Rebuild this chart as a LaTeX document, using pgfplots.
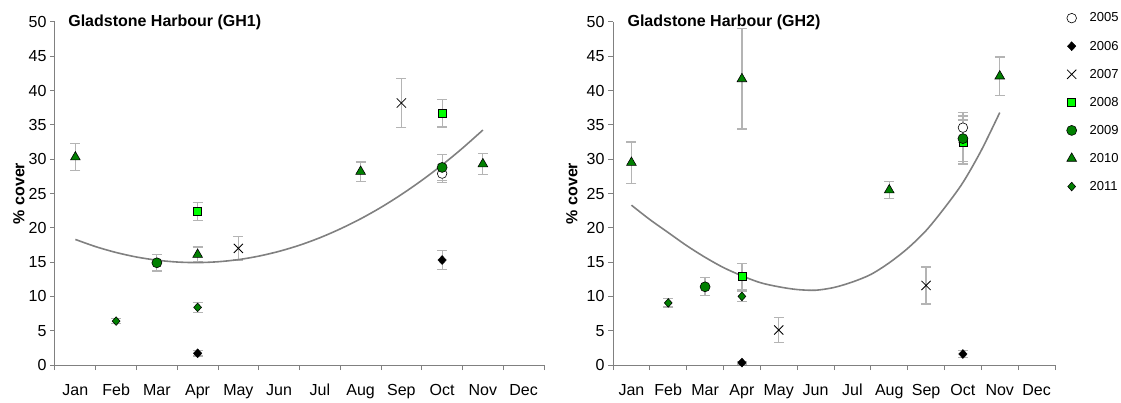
\documentclass[border=0pt]{standalone}
\usepackage{fontspec}
\setmainfont{Liberation Sans}
\usepackage{pgfplots}
\pgfplotsset{compat=1.18}

\definecolor{dgreen}{RGB}{0,128,0}
\definecolor{lgreen}{RGB}{0,255,0}
\definecolor{errgray}{RGB}{180,180,180}
\definecolor{fitgray}{RGB}{128,128,128}
\definecolor{axgray}{RGB}{128,128,128}

\pgfplotsset{
    gh/.style={
        scale only axis,
        height=343bp,
        xmin=0, xmax=12, ymin=0, ymax=50,
        axis lines=left,
        axis line style={-, draw=axgray, line width=1bp},
        tick align=outside,
        major tick length=5bp,
        minor tick length=5bp,
        every tick/.style={draw=axgray, line width=1bp},
        ytick={0,5,...,50},
        xtick={0.5,1.5,...,11.5},
        xticklabels={Jan,Feb,Mar,Apr,May,Jun,Jul,Aug,Sep,Oct,Nov,Dec},
        minor xtick={0,1,...,12},
        major x tick style={draw=none},
        tick label style={font=\fontsize{16bp}{18bp}\selectfont},
        xticklabel style={anchor=base, yshift=-25bp},
        /pgf/number format/assume math mode=true,
        ylabel={\% cover},
        ylabel style={font=\bfseries\fontsize{16bp}{18bp}\selectfont, anchor=center},
        clip=false,
        error bars/y dir=both,
        error bars/y explicit,
        error bars/error bar style={errgray, line width=1.2bp},
        error bars/error mark options={errgray, line width=1.2bp, mark size=5bp, rotate=90},
    },
    y2005/.style={only marks, mark=*, mark size=4.8bp, mark options={fill=white, draw=black, line width=0.6bp}},
    y2006/.style={only marks, mark=diamond*, mark size=4.5bp, mark options={fill=black, draw=black, xscale=1.25}},
    y2007/.style={only marks, mark=x, mark size=6.5bp, mark options={draw=black, line width=0.8bp}},
    y2008/.style={only marks, mark=square*, mark size=4bp, mark options={fill=lgreen, draw=black, line width=0.6bp}},
    y2009/.style={only marks, mark=*, mark size=5bp, mark options={fill=dgreen, draw=black, line width=0.6bp}},
    y2010/.style={only marks, mark=triangle*, mark size=5.6bp, mark options={fill=dgreen, draw=black, line width=0.6bp}},
    y2011/.style={only marks, mark=diamond*, mark size=4.3bp, mark options={fill=dgreen, draw=black, line width=0.6bp, xscale=1.2}},
    fit/.style={no marks, smooth, draw=fitgray, line width=1.6bp},
}

\begin{document}
\begin{tikzpicture}
\path[use as bounding box] (0,0) rectangle (1121bp,403bp);

% ---- GH1 ----
\begin{axis}[gh, width=489bp, at={(55bp,38bp)}, anchor=south west,
    ylabel style={at={(axis description cs:-0.074,0.5)}}]
    \addplot[y2005] coordinates {(9.5,27.9) +- (0,1.3)};
    \addplot[y2006] coordinates {(3.5,1.7) +- (0,0.4) (9.5,15.3) +- (0,1.4)};
    \addplot[y2007] coordinates {(4.5,17.0) +- (0,1.7) (8.5,38.2) +- (0,3.6)};
    \addplot[y2008] coordinates {(3.5,22.4) +- (0,1.3) (9.5,36.7) +- (0,2.0)};
    \addplot[y2009] coordinates {(2.5,14.9) +- (0,1.2) (9.5,28.8) +- (0,1.9)};
    \addplot[y2010] coordinates {(0.5,30.3) +- (0,2.0) (3.5,16.1) +- (0,1.1)
        (7.5,28.2) +- (0,1.4) (10.5,29.3) +- (0,1.5)};
    \addplot[y2011] coordinates {(1.5,6.4) +- (0,0.4) (3.5,8.4) +- (0,0.7)};
    % polynomial trend line
    \addplot[fit] coordinates {
        (0.5,18.30) (1,17.25) (1.5,16.40) (2,15.74) (2.5,15.28) (3,15.01)
        (3.5,14.93) (4,15.05) (4.5,15.36) (5,15.87) (5.5,16.57) (6,17.46)
        (6.5,18.55) (7,19.84) (7.5,21.31) (8,22.98) (8.5,24.85) (9,26.91)
        (9.5,29.16) (10,31.61) (10.5,34.25)};
    \node[anchor=west, font=\bfseries\fontsize{16bp}{18bp}\selectfont]
        at (axis description cs:0.02,1.0) {Gladstone Harbour (GH1)};
\end{axis}

% ---- GH2 ----
\begin{axis}[gh, width=442bp, at={(613bp,38bp)}, anchor=south west,
    ylabel style={at={(axis description cs:-0.093,0.5)}},
    legend style={draw=none, fill=none, at={(axis description cs:1.026,1.036)},
        anchor=north west, font=\fontsize{13bp}{15bp}\selectfont, row sep=11.5bp,
        column sep=10bp, inner sep=0pt, nodes={inner sep=3bp}},
    legend cell align=left]
    \addplot[y2005] coordinates {(9.5,34.6) +- (0,2.2)};
    \addlegendentry{2005}
    \addplot[y2006] coordinates {(3.5,0.35) +- (0,0.2) (9.5,1.6) +- (0,0.5)};
    \addlegendentry{2006}
    \addplot[y2007] coordinates {(4.5,5.1) +- (0,1.8) (8.5,11.6) +- (0,2.7)};
    \addlegendentry{2007}
    \addplot[y2008] coordinates {(3.5,12.9) +- (0,1.9) (9.5,32.5) +- (0,3.2)};
    \addlegendentry{2008}
    \addplot[y2009] coordinates {(2.5,11.4) +- (0,1.3) (9.5,33.0) +- (0,3.3)};
    \addlegendentry{2009}
    \addplot[y2010] coordinates {(0.5,29.5) +- (0,3.0) (3.5,41.7) +- (0,7.3)
        (7.5,25.5) +- (0,1.25) (10.5,42.1) +- (0,2.8)};
    \addlegendentry{2010}
    \addplot[y2011] coordinates {(1.5,9.05) +- (0,0.6) (3.5,10.0) +- (0,0.8)};
    \addlegendentry{2011}
    % polynomial trend line
    \addplot[fit, forget plot] coordinates {
        (0.5,23.3) (1,21.2) (1.5,19.3) (2,17.4) (2.5,15.7) (3,14.2)
        (3.5,13.0) (4,12.0) (4.5,11.4) (5,11.0) (5.5,10.9) (6,11.3)
        (6.5,12.1) (7,13.2) (7.5,14.9) (8,17.0) (8.5,19.6) (9,22.9)
        (9.5,26.6) (10,31.3) (10.5,36.8)};
    \node[anchor=west, font=\bfseries\fontsize{16bp}{18bp}\selectfont]
        at (axis description cs:0.025,1.0) {Gladstone Harbour (GH2)};
\end{axis}
\end{tikzpicture}
\end{document}
